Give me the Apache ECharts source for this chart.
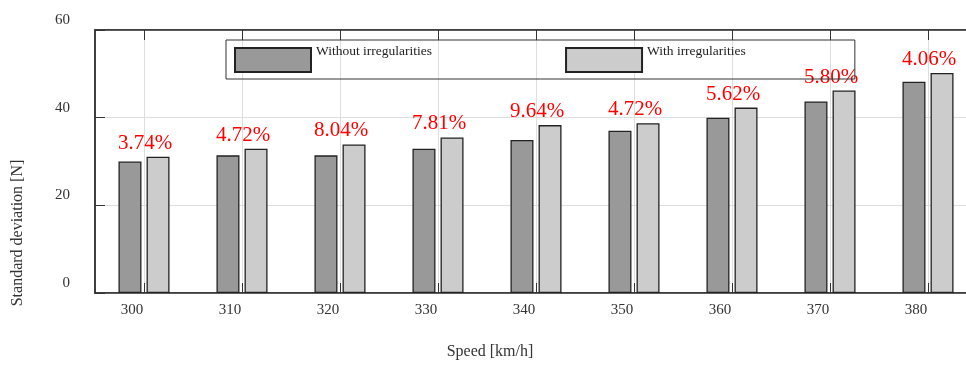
<!DOCTYPE html>
<html>
<head>
<meta charset="utf-8">
<script src="https://cdn.jsdelivr.net/npm/echarts@6/dist/echarts.min.js"></script>
<style>
  html, body { margin: 0; padding: 0; background: #fff; }
  #chart { width: 966px; height: 365px; }
</style>
</head>
<body>
<div id="chart"></div>
<script>
// Standard deviation of force by train speed
const speeds = ['300', '310', '320', '330', '340', '350', '360', '370', '380'];
const withoutIrregularities = [30.0, 31.4, 31.4, 32.9, 34.9, 37.0, 40.0, 43.7, 48.2];
const withIrregularities = [31.1, 32.9, 33.9, 35.5, 38.3, 38.75, 42.3, 46.2, 50.2];
const increaseLabels = ['3.74%', '4.72%', '8.04%', '7.81%', '9.64%', '4.72%', '5.62%', '5.80%', '4.06%'];
const yTicks = { min: 0, max: 60, interval: 20 };

const serif = "'Liberation Serif', 'Times New Roman', serif";
const ink = '#333';

const chart = echarts.init(document.getElementById('chart'), null, { renderer: 'canvas' });

chart.setOption({
  animation: false,
  backgroundColor: '#fff',
  grid: {
    left: 95, right: -11, top: 30, bottom: 72,
    show: true, borderColor: ink, borderWidth: 1.5,
    containLabel: false, outerBoundsMode: 'none'
  },
  legend: {
    left: 226, top: 40,
    icon: 'rect',
    itemWidth: 76, itemHeight: 24, itemGap: 133,
    padding: [3, 109, 2, 8],
    borderColor: ink, borderWidth: 1,
    // second empty line lifts the name to the top of the swatch
    formatter: (name) => name + '\n ',
    textStyle: { fontFamily: serif, fontSize: 13.5, lineHeight: 17, color: '#222' },
    data: ['Without irregularities', 'With irregularities']
  },
  xAxis: [
    {
      type: 'category',
      data: speeds,
      position: 'bottom',
      axisLine: { show: true, lineStyle: { color: ink, width: 1.5 } },
      axisTick: { show: true, inside: true, length: 10, alignWithLabel: true, interval: 0, lineStyle: { color: ink } },
      splitLine: { show: true, alignWithLabel: true, interval: 0, lineStyle: { color: '#dedede', width: 1 } },
      axisLabel: { fontFamily: serif, fontSize: 15, color: ink, margin: 10, padding: [0, 24, 0, 0], interval: 0 }
    },
    {
      type: 'category',
      data: speeds,
      position: 'top',
      axisLine: { show: true, lineStyle: { color: ink, width: 1.5 } },
      axisTick: { show: true, inside: true, length: 10, alignWithLabel: true, interval: 0, lineStyle: { color: ink } },
      axisLabel: { show: false },
      splitLine: { show: false }
    }
  ],
  yAxis: {
    type: 'value',
    min: yTicks.min, max: yTicks.max, interval: yTicks.interval,
    axisLine: { show: true, lineStyle: { color: ink, width: 1.5 } },
    axisTick: { show: true, inside: true, length: 10, lineStyle: { color: ink } },
    splitLine: { show: true, lineStyle: { color: '#dedede', width: 1 } },
    axisLabel: {
      fontFamily: serif, fontSize: 15, color: ink, margin: 25,
      verticalAlign: 'bottom', lineHeight: 20
    }
  },
  series: [
    {
      name: 'Without irregularities',
      type: 'bar',
      data: withoutIrregularities,
      barWidth: 23,
      barGap: '22%',
      itemStyle: { color: '#999999', borderColor: '#222', borderWidth: 1.3 }
    },
    {
      name: 'With irregularities',
      type: 'bar',
      data: withIrregularities,
      barWidth: 23,
      itemStyle: { color: '#cccccc', borderColor: '#222', borderWidth: 1.3 },
      label: {
        show: true,
        position: 'top',
        distance: 3,
        offset: [-13, 0],
        color: '#ff0000',
        fontFamily: serif,
        fontSize: 21,
        formatter: (p) => increaseLabels[p.dataIndex]
      }
    }
  ],
  graphic: [
    {
      type: 'text',
      x: 18, y: 233,
      rotation: Math.PI / 2,
      style: {
        text: 'Standard deviation [N]',
        fontFamily: serif, fontSize: 16, fill: ink,
        align: 'center', verticalAlign: 'middle'
      }
    },
    {
      type: 'text',
      x: 490, y: 352,
      style: {
        text: 'Speed [km/h]',
        fontFamily: serif, fontSize: 16, fill: ink,
        align: 'center', verticalAlign: 'middle'
      }
    }
  ]
});
</script>
</body>
</html>
